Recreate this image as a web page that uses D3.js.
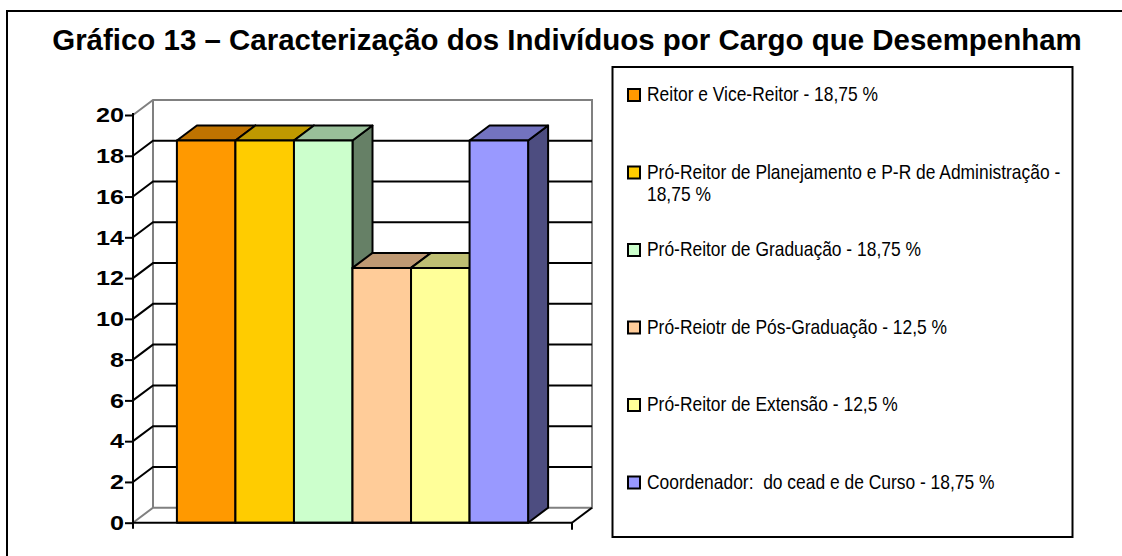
<!DOCTYPE html>
<html>
<head>
<meta charset="utf-8">
<script src="https://cdn.jsdelivr.net/npm/d3@7"></script>
<style>
  body { margin: 0; background: #fff; }
  svg { display: block; }
</style>
</head>
<body>
<script>
// dados do grafico
let categorias = [
  "Reitor e Vice-Reitor - 18,75 %",
  "Pró-Reitor de Planejamento e P-R de Administração - 18,75 %",
  "Pró-Reitor de Graduação - 18,75 %",
  "Pró-Reiotr de Pós-Graduação - 12,5 %",
  "Pró-Reitor de Extensão - 12,5 %",
  "Coordenador:  do cead e de Curso - 18,75 %"
];
let valores = [18.75, 18.75, 18.75, 12.5, 12.5, 18.75];
let cores = ["#FF9900", "#FFCC00", "#CCFFCC", "#FFCC99", "#FFFF99", "#9999FF"];
let ticksY = [0, 2, 4, 6, 8, 10, 12, 14, 16, 18, 20];
let titulo = "Gráfico 13 – Caracterização dos Indivíduos por Cargo que Desempenham";

let W = 1122, H = 556;
let dx = 20, dy = -15; // profundidade 3D

let svg = d3.select("body").append("svg").attr("width", W).attr("height", H);

// moldura (so topo e lado esquerdo aparecem)
svg.append("path").attr("d", "M7,556 L7,11 L1122,11")
  .attr("fill", "none").attr("stroke", "#000").attr("stroke-width", 2);

// titulo, ajustado a largura
let t = svg.append("text").attr("x", 567).attr("y", 50)
  .attr("text-anchor", "middle")
  .style("font-family", "'Liberation Sans', Arial, sans-serif")
  .style("font-weight", "bold").style("font-size", "24px")
  .text(titulo);
let tw = t.node().getComputedTextLength();
t.style("font-size", (24 * 1030 / tw) + "px");

let x0 = 133, x1 = 572;
let y = d3.scaleLinear().domain([0, 20]).range([522.7, 115]);
let x = d3.scaleBand().domain(d3.range(valores.length)).range([x0, x1])
  .paddingInner(0).paddingOuter(0.75);

let plot = svg.append("g");
let gray = "#808080";

// paredes
let yb = y(0), yt = y(20);
plot.append("path")
  .attr("d", `M${x0},${yt} L${x0 + dx},${yt + dy} L${x1 + dx},${yt + dy} L${x1 + dx},${yb + dy} L${x0 + dx},${yb + dy} L${x0},${yb}`)
  .attr("fill", "none").attr("stroke", gray).attr("stroke-width", 2);
plot.append("line").attr("x1", x0 + dx).attr("x2", x0 + dx).attr("y1", yt + dy).attr("y2", yb + dy)
  .attr("stroke", gray).attr("stroke-width", 2);

// linhas de grade
let grid = ticksY.filter(d => d > 0 && d < 20);
plot.selectAll(".grade").data(grid).enter().append("path")
  .attr("class", "grade")
  .attr("d", d => `M${x0},${y(d)} L${x0 + dx},${y(d) + dy} L${x1 + dx},${y(d) + dy}`)
  .attr("fill", "none").attr("stroke", "#000").attr("stroke-width", 2);

// chao
plot.append("path")
  .attr("d", `M${x1},${yb} L${x1 + dx},${yb + dy}`)
  .attr("stroke", "#000").attr("stroke-width", 2);

// barras 3D
let bw = x.bandwidth();
let escurecer = function(c, k) {
  let r = d3.rgb(c);
  return d3.rgb(r.r * k, r.g * k, r.b * k).formatHex();
};
valores.forEach(function(v, i) {
  let a = x(i), b = a + bw, top = y(v);
  let g = plot.append("g");
  g.append("path")
    .attr("d", `M${b},${top} L${b + dx},${top + dy} L${b + dx},${yb + dy} L${b},${yb} Z`)
    .attr("fill", escurecer(cores[i], 0.5));
  g.append("path")
    .attr("d", `M${a},${top} L${a + dx},${top + dy} L${b + dx},${top + dy} L${b},${top} Z`)
    .attr("fill", escurecer(cores[i], 0.75));
  g.append("rect").attr("x", a).attr("y", top).attr("width", bw).attr("height", yb - top)
    .attr("fill", cores[i]);
  g.selectAll("*").attr("stroke", "#000").attr("stroke-width", 2).attr("stroke-linejoin", "round");
});

// eixo x (linha frontal)
plot.append("line").attr("x1", x0).attr("x2", x1).attr("y1", yb).attr("y2", yb)
  .attr("stroke", "#000").attr("stroke-width", 2);
plot.append("line").attr("x1", x1).attr("x2", x1).attr("y1", yb).attr("y2", yb + 7)
  .attr("stroke", "#000").attr("stroke-width", 2);
plot.append("line").attr("x1", x0).attr("x2", x0).attr("y1", yb).attr("y2", yb + 6)
  .attr("stroke", "#000").attr("stroke-width", 2);

// eixo y
let eixoY = svg.append("g").attr("transform", `translate(${x0},0)`)
  .call(d3.axisLeft(y).tickValues(ticksY).tickSize(8).tickPadding(2));
eixoY.select(".domain").attr("stroke", "#000").attr("stroke-width", 2)
  .attr("d", `M0,${yt - 2}V${yb}`);
eixoY.selectAll(".tick line").attr("stroke", "#000").attr("stroke-width", 2);
eixoY.selectAll(".tick text")
  .attr("x", -9 / 1.2)
  .attr("transform", "scale(1.2,1)")
  .style("font-family", "'Liberation Sans', Arial, sans-serif")
  .style("font-weight", "bold").style("font-size", "21px").attr("fill", "#000");

// legenda
svg.append("rect").attr("x", 612.5).attr("y", 67).attr("width", 460).attr("height", 470)
  .attr("fill", "#fff").attr("stroke", "#000").attr("stroke-width", 2);

let fonteLeg = "'Liberation Sans', Arial, sans-serif";
let legY = d3.scaleLinear().domain([0, 5]).range([101, 488.5]);
let leg = svg.selectAll(".leg").data(categorias).enter().append("g").attr("class", "leg");
leg.append("rect")
  .attr("x", 628).attr("y", (d, i) => legY(i) - 12).attr("width", 12).attr("height", 12)
  .attr("fill", (d, i) => cores[i]).attr("stroke", "#000").attr("stroke-width", 2);

// fonte estreita simulada: escala horizontal medida pelo primeiro item
let medida = svg.append("text").style("font-family", fonteLeg).style("font-size", "20px")
  .text(categorias[0]);
let kx = 231 / medida.node().getComputedTextLength();
medida.remove();

leg.each(function(d, i) {
  let txt = d3.select(this).append("g")
    .attr("transform", `translate(647,${legY(i)}) scale(${kx},1)`)
    .append("text")
    .attr("x", 0).attr("y", 0)
    .style("white-space", "pre")
    .style("font-family", fonteLeg).style("font-size", "20px").attr("fill", "#000");
  // quebra de linha simples
  let palavras = d.split(" "), linha = [];
  let ts = txt.append("tspan").attr("x", 0).attr("dy", 0);
  palavras.forEach(function(p) {
    linha.push(p);
    ts.text(linha.join(" "));
    if (ts.node().getComputedTextLength() * kx > 420 && linha.length > 1) {
      linha.pop();
      ts.text(linha.join(" "));
      linha = [p];
      ts = txt.append("tspan").attr("x", 0).attr("dy", 23).text(p);
    }
  });
});
</script>
</body>
</html>
